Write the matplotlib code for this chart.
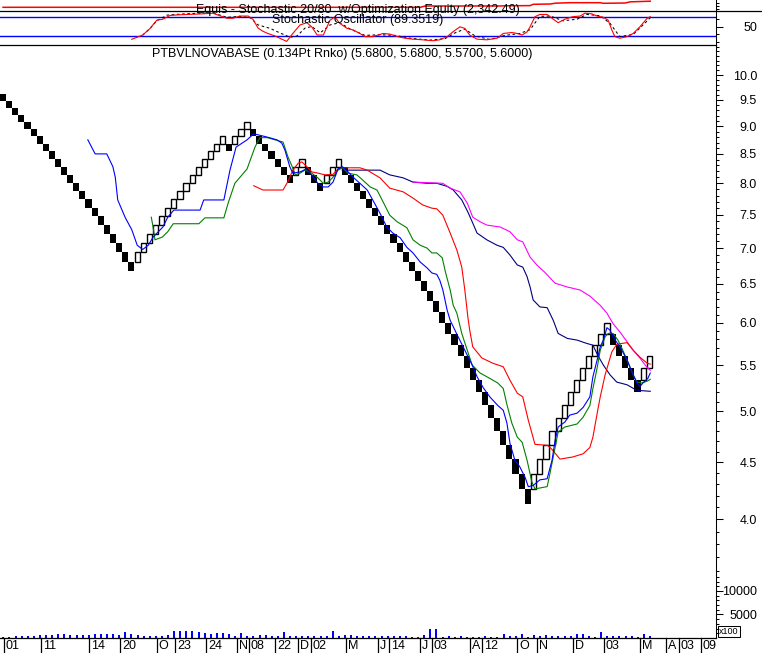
import numpy as np
import matplotlib
matplotlib.use("Agg")
import matplotlib.pyplot as plt
import matplotlib.transforms as mtransforms
from matplotlib.patches import Rectangle
from matplotlib.lines import Line2D
from matplotlib.ticker import NullFormatter

plt.rcParams['font.family'] = ['Liberation Sans', 'DejaVu Sans']

# ---- renko bricks (box 0.134, runs of up/down bricks) ----
box = 0.134
first_top = 9.62
runs = [-22, 15, -1, 3, -7, 2, -3, 3, -31, 13, -5, 2]

# ---- overlay lines, x in renko columns, y in price ----
blue_x = [14.4, 15.6, 17.5, 18.5, 18.9, 19.3, 20.5, 21.6, 22.5, 23.4, 24.3, 25.1, 26.7, 27.5, 28.5, 32.8,
          33.4, 36.7, 37.7, 38.7, 40.5, 41.6, 43.8, 45.4, 46.2, 46.7, 47.5, 48.0, 49.2, 50.2, 51.1, 52.1,
          53.0, 53.8, 54.6, 55.4, 56.1, 56.9, 57.9, 59.0, 60.2, 61.1, 62.3, 63.4, 64.4, 65.6, 66.7, 67.7,
          68.9, 70.0, 70.8, 71.6, 72.1, 72.6, 73.3, 73.8, 75.1, 76.2, 77.4, 78.2, 79.2, 80.3, 81.6, 82.5,
          83.1, 83.6, 84.4, 85.2, 86.1, 86.6, 87.4, 88.5, 89.7, 90.5, 91.0, 91.5, 92.6, 93.4, 94.6, 95.6,
          96.7, 97.2, 97.9, 98.4, 98.9, 99.5, 100.0, 100.5, 101.6, 102.8, 103.6, 104.4, 104.9, 105.4,
          106.2, 106.6]
blue_y = [8.75, 8.50, 8.50, 8.28, 8.10, 7.73, 7.46, 7.27, 7.04, 6.98, 7.04, 7.16, 7.31, 7.46, 7.57, 7.57,
          7.73, 7.73, 8.22, 8.62, 8.75, 8.86, 8.80, 8.75, 8.69, 8.57, 8.28, 8.17, 8.19, 8.24, 8.14, 8.00,
          7.94, 7.94, 8.02, 8.24, 8.28, 8.21, 8.10, 8.00, 7.89, 7.73, 7.52, 7.31, 7.22, 7.15, 7.01, 6.93,
          6.80, 6.72, 6.65, 6.63, 6.55, 6.42, 6.16, 6.03, 5.83, 5.67, 5.50, 5.37, 5.25, 5.15, 5.06, 5.01,
          4.88, 4.68, 4.52, 4.46, 4.36, 4.28, 4.29, 4.34, 4.35, 4.52, 4.71, 4.84, 4.89, 4.96, 4.98, 5.04,
          5.15, 5.37, 5.56, 5.71, 5.79, 5.94, 5.91, 5.83, 5.71, 5.56, 5.42, 5.30, 5.26, 5.30, 5.35, 5.41]

green_x = [24.8, 25.1, 25.4, 26.6, 27.5, 28.4, 32.6, 33.6, 36.7, 37.4, 38.5, 40.5, 41.8, 42.6, 43.8, 46.4,
           47.2, 47.9, 48.4, 49.2, 50.0, 51.1, 52.1, 53.0, 53.8, 54.6, 55.4, 56.2, 57.0, 58.5, 59.5, 60.7,
           61.8, 62.8, 63.9, 65.1, 66.7, 67.7, 68.9, 70.0, 70.8, 71.6, 72.5, 73.0, 73.8, 74.3, 74.9, 75.7,
           76.6, 77.4, 78.7, 80.3, 81.6, 82.5, 83.1, 83.9, 84.8, 85.6, 86.4, 87.2, 87.7, 89.7, 90.2, 91.0,
           91.5, 92.6, 94.6, 95.6, 96.7, 97.2, 97.9, 98.4, 99.2, 99.7, 100.5, 101.3, 102.1, 103.0, 103.8,
           104.4, 105.2, 106.1, 106.6]
green_y = [7.46, 7.31, 7.12, 7.16, 7.24, 7.36, 7.36, 7.45, 7.45, 7.68, 8.00, 8.24, 8.62, 8.79, 8.79, 8.71,
           8.45, 8.28, 8.14, 8.17, 8.22, 8.17, 8.09, 8.00, 8.02, 8.10, 8.22, 8.26, 8.17, 8.14, 8.05, 7.94,
           7.89, 7.70, 7.49, 7.39, 7.30, 7.12, 7.04, 7.00, 6.93, 6.93, 6.86, 6.67, 6.42, 6.22, 6.12, 5.87,
           5.67, 5.50, 5.41, 5.35, 5.30, 5.24, 5.07, 4.88, 4.74, 4.69, 4.52, 4.32, 4.26, 4.28, 4.41, 4.64,
           4.79, 4.84, 4.87, 4.94, 5.06, 5.24, 5.47, 5.67, 5.83, 5.87, 5.87, 5.79, 5.67, 5.52, 5.39, 5.31,
           5.30, 5.32, 5.34]

red_x = [41.6, 43.1, 46.4, 47.2, 48.0, 48.9, 49.5, 50.3, 51.1, 52.1, 53.3, 54.6, 55.4, 56.1, 59.0, 60.2,
         62.3, 63.9, 66.1, 67.7, 69.3, 70.8, 71.6, 72.6, 73.8, 74.9, 75.7, 76.2, 76.7, 77.0, 77.5, 79.0,
         80.8, 82.5, 83.6, 84.8, 85.7, 86.6, 87.7, 89.8, 90.5, 91.8, 93.9, 95.6, 96.7, 97.2, 97.9, 98.4,
         99.2, 100.3, 101.1, 102.8, 103.8, 104.9, 106.1, 106.6]
red_y = [7.96, 7.89, 7.89, 8.03, 8.22, 8.34, 8.36, 8.28, 8.19, 8.17, 8.14, 8.15, 8.24, 8.26, 8.26, 8.22,
         8.09, 7.92, 7.86, 7.76, 7.65, 7.60, 7.59, 7.49, 7.22, 6.97, 6.73, 6.42, 6.07, 5.91, 5.71, 5.58,
         5.52, 5.48, 5.33, 5.19, 5.15, 4.91, 4.67, 4.66, 4.62, 4.53, 4.55, 4.58, 4.64, 4.74, 4.98, 5.15,
         5.39, 5.65, 5.74, 5.76, 5.67, 5.59, 5.52, 5.51]

navy_x = [56.1, 56.9, 62.3, 63.9, 66.1, 67.7, 70.0, 71.6, 73.3, 74.3, 75.7, 76.7, 77.5, 78.2, 79.8, 81.5,
          82.5, 83.6, 84.8, 85.7, 86.4, 86.9, 87.4, 88.5, 89.7, 90.7, 91.5, 93.0, 94.6, 96.2, 97.2, 98.0,
          98.9, 100.0, 101.1, 102.8, 104.4, 106.6]
navy_y = [8.22, 8.22, 8.22, 8.14, 8.09, 8.02, 8.00, 8.00, 7.95, 7.89, 7.73, 7.54, 7.37, 7.22, 7.12, 7.04,
          7.01, 6.90, 6.76, 6.73, 6.60, 6.46, 6.29, 6.20, 6.19, 6.03, 5.87, 5.81, 5.79, 5.75, 5.73, 5.61,
          5.50, 5.39, 5.31, 5.28, 5.22, 5.21]

mag_x = [67.7, 72.6, 73.8, 75.4, 76.6, 77.5, 78.7, 79.8, 82.0, 83.6, 84.8, 85.7, 86.9, 88.0, 89.3, 91.0,
         93.0, 95.1, 96.7, 98.4, 99.5, 100.5, 101.6, 102.8, 103.8, 104.9, 106.1, 106.6]
mag_y = [8.02, 8.00, 7.92, 7.86, 7.68, 7.46, 7.39, 7.34, 7.31, 7.24, 7.12, 7.09, 6.87, 6.76, 6.66, 6.51,
         6.46, 6.42, 6.34, 6.22, 6.12, 5.99, 5.89, 5.77, 5.67, 5.58, 5.47, 5.44]

# ---- stochastic oscillator panel ----
stk_x = [21.6, 23.4, 24.6, 25.7, 26.7, 27.9, 29.5, 32.8, 34.9, 37.2, 38.2, 39.3, 40.7, 41.5, 42.3, 43.1,
         43.9, 45.1, 46.2, 47.0, 48.0, 49.2, 50.3, 51.1, 52.0, 53.0, 54.1, 54.9, 55.7, 56.9, 57.9, 59.0,
         59.8, 61.0, 62.0, 62.8, 63.9, 65.2, 66.4, 67.7, 69.3, 71.0, 72.1, 73.3, 74.3, 75.4, 76.2, 77.0,
         78.2, 79.8, 81.5, 82.5, 83.9, 84.8, 85.6, 86.4, 86.9, 87.7, 88.5, 89.7, 90.5, 91.5, 92.6, 93.9,
         95.1, 95.9, 97.0, 97.9, 98.9, 99.7, 100.3, 100.8, 101.6, 102.8, 103.8, 104.9, 106.1, 106.6]
stk_y = [9.6, 23, 44, 70, 73, 85, 87, 89.5, 92, 76, 76, 83, 83, 72, 45, 35,
         28, 20, 10, 3, 28, 55, 62, 49, 23, 23, 70, 80, 60, 44, 39, 28,
         18, 18, 23, 28, 26, 18, 13, 10, 8, 5, 8, 18, 34, 49, 44, 23,
         10, 8, 13, 28, 31, 28, 23, 33, 49, 81, 88, 88, 76, 62, 73, 81,
         83, 92, 90, 83, 79, 70, 39, 18, 13, 18, 28, 49, 76, 81]
std_x = [23.4, 24.6, 25.7, 27.4, 30.3, 32.8, 34.9, 37.2, 39.3, 41.0, 42.3, 44.3, 45.4, 46.7, 47.5, 48.7,
         50.0, 51.1, 52.5, 54.1, 55.7, 57.4, 59.8, 62.3, 64.8, 67.2, 70.5, 73.0, 74.6, 76.2, 77.9, 80.3,
         82.8, 85.2, 86.9, 88.5, 90.2, 92.3, 94.6, 96.2, 98.4, 100.0, 101.6, 103.8, 105.7, 106.6]
std_y = [23, 44, 68, 86, 90, 92, 93, 79, 82, 78, 55, 44, 34, 23, 16, 20,
         45, 50, 30, 55, 62, 42, 22, 24, 22, 13, 7, 12, 30, 42, 20, 9,
         22, 28, 40, 82, 83, 68, 73, 88, 84, 60, 18, 25, 60, 78]

# ---- optimization equity ----
eq_x = [0.5, 68.9, 69.7, 82.0, 82.8, 86.9, 87.4, 90.2, 91.0, 93.4, 98.4, 98.9, 102.5, 103.3, 106.6]
eq_y = [1000, 1000, 1290, 1290, 1330, 1370, 1660, 1726, 1900, 2012, 2012, 1880, 1946, 2200, 2342]

# ---- volume (x100), one bar per renko column ----
volume = [150, 280, 360, 360, 360, 490, 640, 640, 640, 790, 790, 700, 700, 640, 640, 790, 790, 790, 790,
          640, 1210, 790, 640, 490, 490, 490, 490, 640, 1430, 1430, 1430, 1430, 1340, 1070, 920, 1070,
          1070, 850, 490, 1000, 360, 490, 640, 640, 360, 490, 1210, 490, 360, 490, 360, 360, 490, 490,
          1550, 490, 640, 640, 490, 490, 360, 320, 320, 320, 320, 320, 320, 210, 190, 580, 1940, 1940,
          210, 320, 210, 320, 210, 130, 210, 320, 190, 210, 770, 320, 320, 770, 210, 580, 320, 580, 450,
          320, 320, 320, 770, 770, 320, 210, 1210, 320, 320, 320, 320, 320, 210, 770, 320]

# ---- date axis ----
date_pos = [0.66, 6.7, 14.6, 19.7, 25.7, 28.7, 33.8, 38.9, 40.8, 45.1, 48.9, 51.0, 56.7, 62.0, 63.8,
            68.9, 70.8, 77.0, 79.0, 84.8, 88.0, 93.9, 99.0, 104.9, 109.2, 111.3, 114.9]
date_lab = ['01', '11', '14', '20', 'O', '23', '24', 'N', '08', '22', 'D', '02', 'M', 'J', '14',
            'J', '03', 'A', '12', 'O', 'N', 'D', '03', 'M', 'A', '03', '09']

W, H, DPI = 762, 653, 100
COL = 6.1          # pixels per renko column
XR = 716           # right price axis position
FS = 9

fig = plt.figure(figsize=(W / DPI, H / DPI), dpi=DPI)


def panel(top, bottom):
    ax = fig.add_axes([0, 1 - bottom / H, XR / W, (bottom - top) / H])
    ax.set_xlim(0, XR / COL)
    ax.set_xticks([])
    for s in ('left', 'top', 'bottom'):
        ax.spines[s].set_visible(False)
    ax.spines['right'].set_linewidth(0.75)
    ax.yaxis.tick_right()
    ax.patch.set_alpha(0)
    ax.tick_params(axis='y', which='major', length=5, width=0.75, pad=24.5, labelsize=FS)
    ax.tick_params(axis='y', which='minor', length=2.5, width=0.75)
    return ax


def right_labels(ax):
    for t in ax.get_yticklabels():
        t.set_horizontalalignment('right')


ax_eq = panel(0, 10)
ax_st = panel(10, 45)
ax_pr = panel(45, 575)
ax_vol = panel(575, 638)
ax_dt = panel(638, 653)
ax_dt.spines['right'].set_visible(False)
ax_dt.set_yticks([])

# equity
ax_eq.set_ylim(406, 2606)
ax_eq.plot(eq_x, eq_y, color='#ff0000', lw=1.1)
ax_eq.set_yticks([])
ax_eq.set_yticks([560, 1286, 2012], minor=True)

# stochastic
ax_st.set_ylim(-8.4, 102.1)
ax_st.axhline(80, color='#0000ff', lw=1.0)
ax_st.axhline(20, color='#0000ff', lw=1.0)
ax_st.plot(std_x, std_y, color='black', lw=0.75, dashes=(2.5, 2.5))
ax_st.plot(stk_x, stk_y, color='#ff0000', lw=0.8)
ax_st.set_yticks([50], labels=['50'])
ax_st.set_yticks([0, 25, 75, 100], minor=True)
right_labels(ax_st)
fig.add_artist(Line2D([0, 1], [1 - 10.5 / H, 1 - 10.5 / H], color='black', lw=0.9,
                      transform=fig.transFigure))

# price panel
ax_pr.set_yscale('log')
ax_pr.set_ylim(3.567, 10.64)
ax_pr.spines['top'].set_visible(True)
ax_pr.spines['top'].set_linewidth(0.9)
majors = np.arange(4.0, 10.01, 0.5)
minors = [v for v in np.arange(3.6, 10.65, 0.1) if min(abs(v - majors)) > 0.01]
ax_pr.set_yticks(majors, labels=[f'{v:.1f}' for v in majors])
ax_pr.set_yticks(minors, minor=True)
ax_pr.yaxis.set_minor_formatter(NullFormatter())
right_labels(ax_pr)

lo, hi = first_top - box, first_top
i = 0
for r in runs:
    up = r > 0
    for _ in range(abs(r)):
        if i > 0:
            if up:
                lo, hi = hi, hi + box
            else:
                lo, hi = lo - box, lo
        if up:
            ax_pr.add_patch(Rectangle((i + 0.07, lo), 0.86, hi - lo, facecolor='white',
                                      edgecolor='black', lw=1.0, zorder=2))
        else:
            ax_pr.add_patch(Rectangle((i, lo), 1.0, hi - lo, facecolor='black',
                                      edgecolor='none', lw=0, zorder=2))
        i += 1

ax_pr.plot(navy_x, navy_y, color='#000080', lw=0.8, zorder=3)
ax_pr.plot(mag_x, mag_y, color='#ff00ff', lw=0.8, zorder=3)
ax_pr.plot(red_x, red_y, color='#ff0000', lw=0.8, zorder=3)
ax_pr.plot(green_x, green_y, color='#008000', lw=0.8, zorder=3)
ax_pr.plot(blue_x, blue_y, color='#0000ff', lw=0.8, zorder=4)

# volume
ax_vol.set_ylim(0, 13400)
ax_vol.spines['bottom'].set_visible(True)
ax_vol.spines['bottom'].set_linewidth(0.9)
ax_vol.bar(np.arange(len(volume)) + 0.55, volume, width=0.32, color='#0000ff')
ax_vol.set_yticks([5000, 10000], labels=['5000', '10000'])
ax_vol.set_yticks(np.arange(1000, 13001, 1000), minor=True)
right_labels(ax_vol)

# date axis
ax_dt.set_ylim(0, 1)
trans = mtransforms.blended_transform_factory(ax_dt.transData, ax_dt.transAxes)
for xp, lab in zip(date_pos, date_lab):
    ax_dt.plot([xp, xp], [0, 1], color='black', lw=0.9, transform=trans, clip_on=False)
    ax_dt.text(xp + 0.3, 0.45, lab, transform=trans, ha='left', va='center', fontsize=FS,
               clip_on=False)

# texts
fig.text(358 / W, 1 - 10 / H, 'Equis - Stochastic 20/80  w/Optimization Equity (2,342.49)',
         ha='center', va='center', fontsize=FS)
fig.text(358 / W, 1 - 20.5 / H, 'Stochastic Oscillator (89.3519)', ha='center', va='center', fontsize=FS)
fig.text(342 / W, 1 - 54 / H, 'PTBVLNOVABASE (0.134Pt Rnko) (5.6800, 5.6800, 5.5700, 5.6000)',
         ha='center', va='center', fontsize=FS)
fig.text(729 / W, 1 - 631.5 / H, 'x100', ha='center', va='center', fontsize=6.5,
         bbox=dict(boxstyle='square,pad=0.12', fc='white', ec='black', lw=0.75))

fig.savefig('out.png', dpi=DPI)
